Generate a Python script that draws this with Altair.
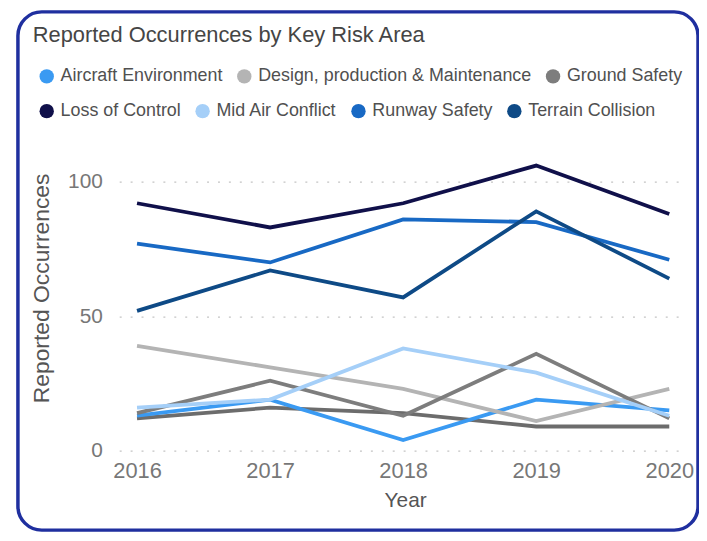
import altair as alt
import pandas as pd

# ---- data ----
years = [2016, 2017, 2018, 2019, 2020]

aircraft_environment = [13, 19, 4, 19, 15]
design_production = [39, 31, 23, 11, 23]
ground_safety = [14, 26, 13, 36, 12]
loss_of_control = [92, 83, 92, 106, 88]
mid_air_conflict = [16, 19, 38, 29, 13]
runway_safety = [77, 70, 86, 85, 71]
terrain_collision = [52, 67, 57, 89, 64]
unlabelled_series = [12, 16, 14, 9, 9]  # visible grey line with no legend entry

row1_names = ["Aircraft Environment", "Design, production & Maintenance", "Ground Safety"]
row1_values = [aircraft_environment, design_production, ground_safety]
row1_colors = ["#3a9af2", "#b4b4b4", "#7d7d7d"]

row2_names = ["Loss of Control", "Mid Air Conflict", "Runway Safety", "Terrain Collision"]
row2_values = [loss_of_control, mid_air_conflict, runway_safety, terrain_collision]
row2_colors = ["#10104a", "#a5cff8", "#1869c4", "#0e4a86"]

other_name = ["Other"]
other_color = ["#6c6c6c"]

title_text = "Reported Occurrences by Key Risk Area"
y_ticks = [0, 50, 100]


def long_df(names, values, row):
    rows = []
    for n, vals in zip(names, values):
        for yr, v in zip(years, vals):
            rows.append({"Series": n, "Year": yr, "Value": v, "Row": row})
    return pd.DataFrame(rows)


df_all = pd.concat([
    long_df(other_name, [unlabelled_series], 0),
    long_df(row1_names, row1_values, 1),
    long_df(row2_names, row2_values, 2),
], ignore_index=True)
one = pd.DataFrame({"k": [0]})

FONT = "Liberation Sans"

x_enc = alt.X(
    "Year:Q",
    scale=alt.Scale(domain=[2015.866, 2020.104], nice=False, zero=False),
    axis=alt.Axis(
        values=years, format="d", grid=False, domain=False, ticks=False, tickSize=0,
        labelFontSize=22, labelFont=FONT, labelColor="#777777", labelPadding=10,
        title="Year", titleFontSize=21, titleFont=FONT, titleColor="#555555",
        titleFontWeight="normal", titleX=288, titleY=50, titleBaseline="middle",
        titleAlign="center",
    ),
)
y_enc = alt.Y(
    "Value:Q",
    scale=alt.Scale(domain=[0, 110], nice=False),
    axis=alt.Axis(
        values=y_ticks, grid=True, gridDash=[2, 9], gridColor="#c4c4c4", gridWidth=1.2,
        domain=False, ticks=False, tickSize=0,
        labelFontSize=21, labelFont=FONT, labelColor="#777777", labelPadding=17,
        title="Reported Occurrences", titleFontSize=23, titleFont=FONT,
        titleColor="#555555", titleFontWeight="normal", titleAngle=-90,
        titleX=-78, titleY=134, titleAlign="center", titleBaseline="middle",
    ),
)

LW = 3.8


def legend_spec(lx, ly):
    return alt.Legend(
        orient="none", legendX=lx, legendY=ly, direction="horizontal", title=None,
        symbolType="circle", symbolSize=210, symbolStrokeWidth=0,
        labelFontSize=18, labelFont=FONT, labelColor="#505050", labelOffset=5,
        columnPadding=12, padding=0, labelLimit=400,
    )


all_names = other_name + row1_names + row2_names
all_colors = other_color + row1_colors + row2_colors

lines = alt.Chart(df_all).mark_line(strokeWidth=LW).encode(
    x=x_enc, y=y_enc,
    stroke=alt.Stroke("Series:N", scale=alt.Scale(domain=all_names, range=all_colors), legend=None),
    order=alt.Order("Row:Q"),
)

leg1 = alt.Chart(df_all).transform_filter("datum.Row == 1").mark_point(
    filled=True, opacity=1, size=0
).encode(
    x=x_enc, y=y_enc,
    color=alt.Color("Series:N", scale=alt.Scale(domain=row1_names, range=row1_colors),
                    legend=legend_spec(-82, -88)),
)
leg2 = alt.Chart(df_all).transform_filter("datum.Row == 2").mark_point(
    filled=True, opacity=1, size=0
).encode(
    x=x_enc, y=y_enc,
    fill=alt.Fill("Series:N", scale=alt.Scale(domain=row2_names, range=row2_colors),
                  legend=legend_spec(-82, -53)),
)

border = alt.Chart(one).mark_rect(
    fill="transparent", stroke="#1f2f9f", strokeWidth=3.5, cornerRadius=24
).encode(x=alt.value(-102), x2=alt.value(583), y=alt.value(-144), y2=alt.value(378))

title = alt.Chart(one).mark_text(
    text=title_text, align="left", baseline="alphabetic", fontSize=22, font=FONT,
    color="#454545",
).encode(x=alt.value(-87), y=alt.value(-114))

chart = (
    alt.layer(border, title, lines, leg1, leg2)
    .properties(
        width=568, height=298,
        autosize=alt.AutoSizeParams(type="none"),
        padding={"left": 112, "top": 146, "right": 16, "bottom": 82},
        background="white",
    )
    .configure_view(strokeWidth=0, stroke="transparent")
)

chart.save("out.html", embed_options={"renderer": "svg", "actions": False})
